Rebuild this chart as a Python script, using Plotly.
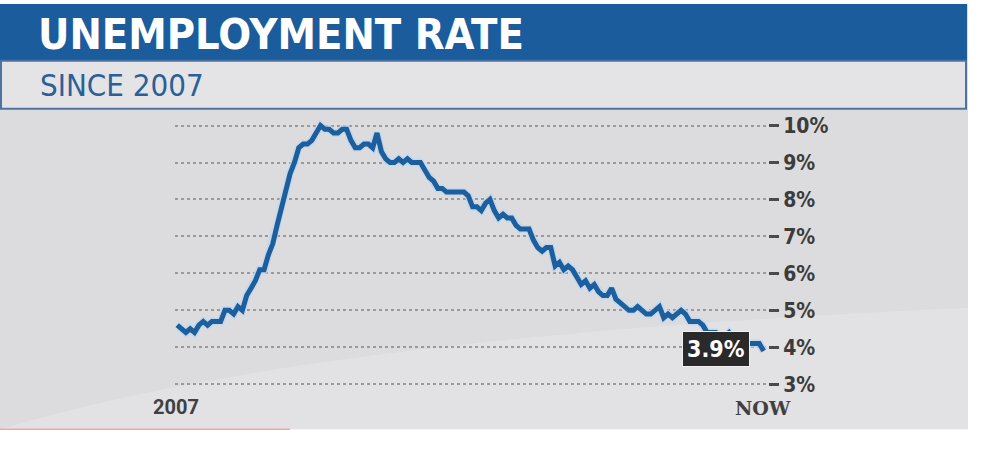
import plotly.graph_objects as go

# monthly unemployment rate, Jan 2007 .. Apr 2018 (%)
rate = [
    4.6, 4.5, 4.4, 4.5, 4.4, 4.6, 4.7, 4.6, 4.7, 4.7, 4.7, 5.0,
    5.0, 4.9, 5.1, 5.0, 5.4, 5.6, 5.8, 6.1, 6.1, 6.5, 6.8, 7.3,
    7.8, 8.3, 8.7, 9.0, 9.4, 9.5, 9.5, 9.6, 9.8, 10.0, 9.9, 9.9,
    9.8, 9.8, 9.9, 9.9, 9.6, 9.4, 9.4, 9.5, 9.5, 9.4, 9.8, 9.3,
    9.1, 9.0, 9.0, 9.1, 9.0, 9.1, 9.0, 9.0, 9.0, 8.8, 8.6, 8.5,
    8.3, 8.3, 8.2, 8.2, 8.2, 8.2, 8.2, 8.1, 7.8, 7.8, 7.7, 7.9,
    8.0, 7.7, 7.5, 7.6, 7.5, 7.5, 7.3, 7.2, 7.2, 7.2, 6.9, 6.7,
    6.6, 6.7, 6.7, 6.2, 6.3, 6.1, 6.2, 6.1, 5.9, 5.7, 5.8, 5.6,
    5.7, 5.5, 5.4, 5.4, 5.6, 5.3, 5.2, 5.1, 5.0, 5.0, 5.1, 5.0,
    4.9, 4.9, 5.0, 5.1, 4.8, 4.9, 4.8, 4.9, 5.0, 4.9, 4.7, 4.7,
    4.7, 4.6, 4.4, 4.4, 4.4, 4.3, 4.3, 4.4, 4.2, 4.1, 4.1, 4.1,
    4.1, 4.1, 4.1, 3.9,
]
months = list(range(len(rate)))
y_ticks = [3, 4, 5, 6, 7, 8, 9, 10]
y_labels = [f"{v}%" for v in y_ticks]
title = "UNEMPLOYMENT RATE"
subtitle = "SINCE 2007"
start_label = "2007"
end_label = "NOW"
last_label = "3.9%"

W, H = 984, 452
BLUE = "#1d5e9d"
COND = "Liberation Sans Narrow, DejaVu Sans Condensed, Roboto, sans-serif"

def px(x):
    return x / W

def py(y):
    return 1 - y / H

fig = go.Figure()
# soft halo under the line
fig.add_trace(go.Scatter(x=months, y=rate, mode="lines",
                         line=dict(color="rgba(190,215,240,0.8)", width=8),
                         hoverinfo="skip", showlegend=False))
fig.add_trace(go.Scatter(x=months, y=rate, mode="lines",
                         line=dict(color=BLUE, width=5),
                         showlegend=False))

shapes = [
    # grey panel
    dict(type="rect", xref="paper", yref="paper", x0=0, x1=px(968), y0=py(434), y1=1,
         fillcolor="#dcdcde", line_width=0, layer="below"),
    # faint lighter swoosh
    dict(type="path", xref="paper", yref="paper",
         path=f"M {px(0)},{py(434)} Q {px(300)},{py(340)} {px(968)},{py(310)} L {px(968)},{py(434)} Z",
         fillcolor="rgba(232,232,234,0.5)", line_width=0, layer="below"),
    # title banner
    dict(type="rect", xref="paper", yref="paper", x0=0, x1=px(967), y0=py(58), y1=1,
         fillcolor="#1a5c9c", line_width=0),
    # subtitle band
    dict(type="rect", xref="paper", yref="paper", x0=px(1), x1=px(966), y0=py(107), y1=py(58),
         fillcolor="#e4e4e6", line=dict(color="#4f73a0", width=2)),
    # thin pink line at the bottom
    dict(type="line", xref="paper", yref="paper", x0=0, x1=px(290), y0=py(434), y1=py(434),
         line=dict(color="#f4a6a6", width=1.5)),
]

annotations = [
    dict(text=f"<b>{title}</b>", x=px(36), y=py(31), xref="paper", yref="paper",
         xanchor="left", yanchor="middle", showarrow=False,
         font=dict(family=COND, size=43, color="white")),
    dict(text=subtitle, x=px(38), y=py(83), xref="paper", yref="paper",
         xanchor="left", yanchor="middle", showarrow=False,
         font=dict(family=COND, size=31, color="#2b5f98")),
    dict(text=f"<b>{start_label}</b>", x=px(176), y=py(411), xref="paper", yref="paper",
         xanchor="center", yanchor="middle", showarrow=False,
         font=dict(family="Roboto, sans-serif", size=20, color="#404040")),
    dict(text=f"<b>{end_label}</b>", x=px(763), y=py(412), xref="paper", yref="paper",
         xanchor="center", yanchor="middle", showarrow=False,
         font=dict(family="DejaVu Serif, serif", size=19, color="#404040")),
    dict(text=f"<b>{last_label}</b>", x=months[-1], y=rate[-1], xref="x", yref="y",
         xanchor="right", yanchor="middle", xshift=-14, yshift=2, showarrow=False,
         bgcolor="#2a2a2a", bordercolor="#f0f0f0", borderwidth=1, borderpad=4,
         font=dict(family=COND, size=23, color="white")),
]

fig.update_layout(
    width=W, height=H,
    margin=dict(l=0, r=0, t=0, b=0),
    paper_bgcolor="white", plot_bgcolor="rgba(0,0,0,0)",
    shapes=shapes, annotations=annotations,
    xaxis=dict(domain=[px(175), px(768)], range=[-0.5, len(rate)],
               showgrid=False, showticklabels=False, zeroline=False, ticks=""),
    yaxis=dict(domain=[py(395.5), py(116.5)], range=[2.8, 10.2], side="right",
               tickvals=y_ticks, ticktext=[f"<b>{t}</b>" for t in y_labels],
               showgrid=True, gridcolor="#9a9a9a", gridwidth=1.5, griddash="dot",
               ticks="outside", ticklen=10, tickwidth=3, tickcolor="#4a4a4a",
               zeroline=False, showline=False,
               tickfont=dict(family=COND, size=21, color="#3c3c3c")),
)

# drop the default 8px body margin so the figure sits at the page corner
fig.write_html("out.html", post_script="document.body.style.margin='0px';",
               config={"displayModeBar": False})
